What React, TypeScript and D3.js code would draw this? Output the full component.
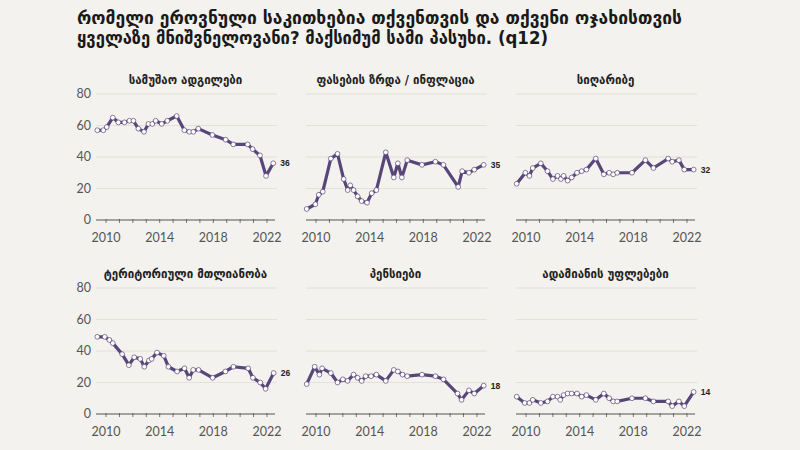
import React from 'react';
import * as d3 from 'd3';

type Pt = [number, number];

const titleLines = [
  'რომელი ეროვნული საკითხებია თქვენთვის და თქვენი ოჯახისთვის',
  'ყველაზე მნიშვნელოვანი? მაქსიმუმ სამი პასუხი. (q12)',
];
const titleWidths = [605, 471];

const panelTitles = [
  'სამუშაო ადგილები',
  'ფასების ზრდა / ინფლაცია',
  'სიღარიბე',
  'ტერიტორიული მთლიანობა',
  'პენსიები',
  'ადამიანის უფლებები',
];

const jobs: Pt[] = [
  [2009.35, 57], [2009.8, 57], [2010.05, 59], [2010.5, 65], [2010.92, 62], [2011.37, 62],
  [2011.74, 63], [2012.04, 63], [2012.41, 58], [2012.83, 56], [2013.16, 61], [2013.45, 61],
  [2013.7, 63], [2014.15, 61], [2014.57, 63], [2015.27, 66], [2015.84, 57], [2016.21, 56],
  [2016.51, 56], [2016.88, 58], [2017.93, 54], [2018.92, 51], [2019.49, 48], [2020.56, 48],
  [2020.93, 45], [2021.48, 41], [2021.93, 28], [2022.47, 36],
];

const prices: Pt[] = [
  [2009.3, 7], [2009.95, 10], [2010.2, 16], [2010.5, 18], [2011.1, 39], [2011.6, 42],
  [2012.06, 26], [2012.36, 19], [2012.55, 22], [2012.8, 19], [2013.1, 15], [2013.4, 12],
  [2013.8, 11], [2014.15, 17], [2014.5, 19], [2015.2, 43], [2015.8, 27], [2016.1, 36],
  [2016.4, 27], [2016.8, 38], [2017.9, 35], [2018.9, 37], [2019.5, 35], [2020.6, 21],
  [2020.9, 31], [2021.4, 30], [2021.8, 32], [2022.5, 35],
];

const poverty: Pt[] = [
  [2009.3, 23], [2009.95, 30], [2010.25, 28], [2010.5, 33], [2011.1, 36], [2011.6, 31],
  [2012.0, 26], [2012.35, 28], [2012.6, 26], [2012.8, 28], [2013.1, 25], [2013.4, 27],
  [2013.8, 30], [2014.15, 31], [2014.5, 32], [2015.2, 39], [2015.8, 29], [2016.2, 30],
  [2016.5, 29], [2016.8, 30], [2017.9, 30], [2018.9, 38], [2019.5, 33], [2020.6, 39],
  [2020.9, 37], [2021.4, 38], [2021.8, 32], [2022.5, 32],
];

const territory: Pt[] = [
  [2009.35, 49], [2009.9, 49], [2010.25, 47], [2010.5, 45], [2011.2, 38], [2011.7, 31],
  [2012.1, 36], [2012.55, 35], [2012.85, 30], [2013.2, 34], [2013.4, 35], [2013.8, 39],
  [2014.3, 37], [2014.65, 30], [2015.3, 27], [2015.85, 29], [2016.2, 23], [2016.5, 28],
  [2016.9, 28], [2017.95, 23], [2018.9, 27], [2019.5, 30], [2020.6, 29], [2020.95, 23],
  [2021.5, 20], [2021.9, 16], [2022.5, 26],
];

const pensions: Pt[] = [
  [2009.3, 19], [2009.9, 30], [2010.25, 25], [2010.45, 29], [2011.1, 26], [2011.6, 20],
  [2012.0, 22], [2012.35, 21], [2012.8, 25], [2013.1, 23], [2013.4, 21], [2013.7, 24],
  [2014.1, 24], [2014.5, 25], [2015.2, 21], [2015.8, 28], [2016.1, 27], [2016.45, 25],
  [2016.8, 24], [2017.9, 25], [2018.9, 24], [2019.5, 22], [2020.55, 13], [2020.85, 9],
  [2021.4, 15], [2021.8, 13], [2022.5, 18],
];

const rights: Pt[] = [
  [2009.3, 11], [2009.9, 7], [2010.25, 7], [2010.5, 9], [2011.1, 7], [2011.6, 8],
  [2012.0, 11], [2012.35, 11], [2012.55, 9], [2012.8, 12], [2013.1, 13], [2013.4, 13],
  [2013.8, 13], [2014.15, 11], [2014.5, 12], [2015.2, 9], [2015.8, 13], [2016.2, 10],
  [2016.5, 8], [2016.8, 8], [2017.9, 10], [2018.9, 10], [2019.5, 8], [2020.6, 8],
  [2020.9, 5], [2021.4, 8], [2021.8, 5], [2022.5, 14],
];

const series = [jobs, prices, poverty, territory, pensions, rights];
const yTicks = [0, 20, 40, 60, 80];
const yearTicks = d3.range(2010, 2023);
const yearLabels = [2010, 2014, 2018, 2022];

const W = 800;
const H = 450;
const LINE = '#58467a';
const BG = '#f4f2ee';
const NUM_FONT = 'Lato, "Open Sans", sans-serif';
const GEO_FONT = '"DejaVu Sans", sans-serif';

function Panel({ idx }: { idx: number }) {
  const col = idx % 3;
  const row = Math.floor(idx / 3);
  const x0 = 96 + col * 210;
  const y0 = 220 + row * 194;
  const x = d3.scaleLinear().domain([2009.25, 2022.6]).range([x0, x0 + 179]);
  const y = d3.scaleLinear().domain([0, 80]).range([y0, y0 - 126]);
  const data = series[idx];
  const line = d3.line<Pt>().x(d => x(d[0])).y(d => y(d[1]));
  const last = data[data.length - 1];

  return (
    <g>
      <text x={x0 + 89.5} y={y0 - 136} textAnchor="middle" fontFamily={GEO_FONT}
        fontWeight="bold" fontSize={11.5} fill="#222">{panelTitles[idx]}</text>
      {yTicks.filter(t => t > 0).map(t => (
        <line key={t} x1={x0} x2={x0 + 181} y1={y(t)} y2={y(t)} stroke="#dfdbd4" strokeWidth={0.8} />
      ))}
      {col === 0 && yTicks.map(t => (
        <text key={t} x={x0 - 5} y={y(t)} dy="0.35em" textAnchor="end" fontFamily={NUM_FONT}
          fontSize={12.5} fill="#555">{t}</text>
      ))}
      <line x1={x0} x2={x0 + 179} y1={y0} y2={y0} stroke="#555" strokeWidth={1} />
      {yearTicks.map(t => (
        <line key={t} x1={x(t)} x2={x(t)} y1={y0 - 1} y2={y0 + 3} stroke="#555" strokeWidth={0.8} />
      ))}
      {yearLabels.map(t => (
        <text key={t} x={x(t)} y={y0 + 18} dy="0.35em" textAnchor="middle" fontFamily={NUM_FONT}
          fontSize={12.5} fill="#555">{t}</text>
      ))}
      <path d={line(data) || ''} fill="none" stroke={LINE} strokeWidth={3.2} strokeLinejoin="round" />
      {data.map((d, i) => (
        <circle key={i} cx={x(d[0])} cy={y(d[1])} r={2.4} fill="#fff" stroke={LINE} strokeWidth={0.7} />
      ))}
      <text x={x(last[0]) + 7} y={y(last[1])} dy="0.35em" fontFamily={'"Liberation Sans", Arial, sans-serif'}
        fontWeight="bold" fontSize={8.5} fill="#222">{last[1]}</text>
    </g>
  );
}

export default function App() {
  return (
    <svg width={W} height={H} viewBox={`0 0 ${W} ${H}`}
      style={{ position: 'absolute', left: 0, top: 0, display: 'block' }}>
      <rect width={W} height={H} fill={BG} />
      {titleLines.map((t, i) => (
        <text key={i} x={77} y={24 + i * 20} fontFamily={GEO_FONT} fontWeight="bold"
          fontSize={17} fill="#1a1a1a" textLength={titleWidths[i]} lengthAdjust="spacingAndGlyphs">{t}</text>
      ))}
      {series.map((_, i) => <Panel key={i} idx={i} />)}
    </svg>
  );
}
